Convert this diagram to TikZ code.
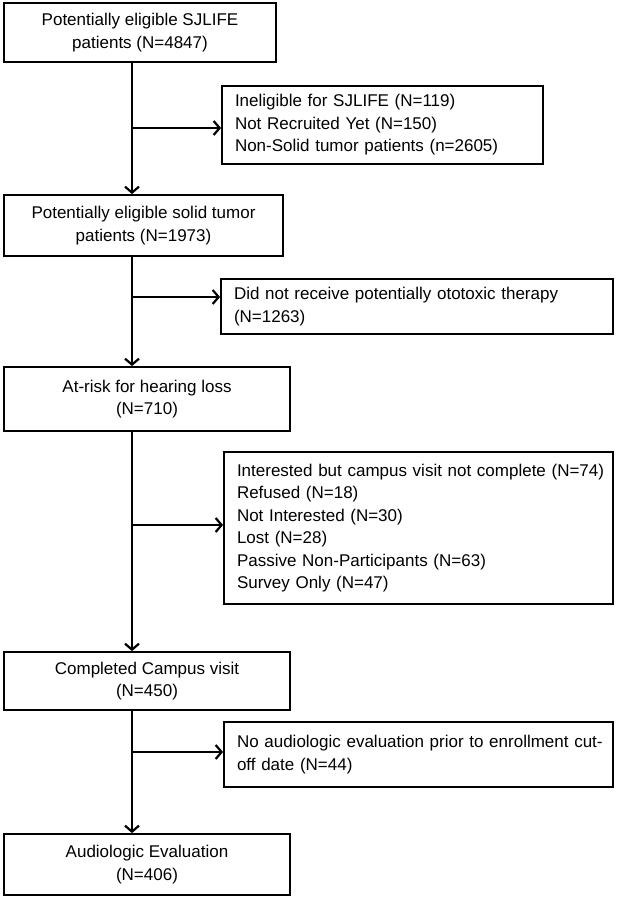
\documentclass[tikz,border=0pt]{standalone}
\usepackage{fontspec}
\setmainfont{Liberation Sans}
\usetikzlibrary{positioning, arrows.meta, calc}

\begin{document}
\begin{tikzpicture}[
    x=1pt, y=-1pt,
    % Styles
    stage/.style={ % Boxes on the main flow
        rectangle,
        draw,
        line width=1.8pt,
        align=center,
        font=\fontsize{17}{22.5}\selectfont
    },
    dropout/.style={ % Exclusion boxes on the right
        stage,
        align=left,
        inner xsep=13pt
    },
    arrow/.style={
        -{Straight Barb[length=6pt, width=14pt]},
        line width=2.2pt
    }
]
    \useasboundingbox (0,0) rectangle (618,900);

    % Main flow
    \node[stage, minimum width=272pt, minimum height=59pt] (eligible) at (140,32.5)
        {Potentially eligible SJLIFE\\patients (N=4847)};
    \node[stage, minimum width=279pt, minimum height=61pt] (solid) at (143.5,225.5)
        {Potentially eligible solid tumor\\patients (N=1973)};
    \node[stage, minimum width=286pt, minimum height=64pt] (atrisk) at (147,399)
        {At-risk for hearing loss\\(N=710)};
    \node[stage, minimum width=286pt, minimum height=58pt] (campus) at (147,681)
        {Completed Campus visit\\(N=450)};
    \node[stage, minimum width=286pt, minimum height=61pt] (audio) at (147,864.5)
        {Audiologic Evaluation\\(N=406)};

    % Exclusions
    \node[dropout, text width=295pt, minimum height=78pt] (ineligible) at (382.5,125)
        {Ineligible for SJLIFE (N=119)\\Not Recruited Yet (N=150)\\Non-Solid tumor patients (n=2605)};
    \node[dropout, text width=366pt, minimum height=55pt] (noototox) at (417,306.5)
        {Did not receive potentially ototoxic therapy\\(N=1263)};
    \node[dropout, text width=363pt, minimum height=152pt] (notseen) at (418.5,528)
        {\mbox{Interested but campus visit not complete (N=74)}\\Refused (N=18)\\Not Interested (N=30)\\Lost (N=28)\\Passive Non-Participants (N=63)\\Survey Only (N=47)};
    \node[dropout, text width=363pt, minimum height=65pt] (noaudio) at (418.5,754.5)
        {\mbox{No audiologic evaluation prior to enrollment cut-}\\off date (N=44)};

    % Spine and split points
    \coordinate (spine) at (132,0);
    \coordinate (split1) at (132,128);
    \coordinate (split2) at (132,297);
    \coordinate (split3) at (132,525);
    \coordinate (split4) at (132,752);

    % Main -> Main
    \draw[arrow] (eligible.south -| spine) -- (solid.north -| spine);
    \draw[arrow] (solid.south -| spine) -- (atrisk.north -| spine);
    \draw[arrow] (atrisk.south -| spine) -- (campus.north -| spine);
    \draw[arrow] (campus.south -| spine) -- (audio.north -| spine);

    % Main -> Exclusions
    \draw[arrow] (split1) -- (split1 -| ineligible.west);
    \draw[arrow] (split2) -- (split2 -| noototox.west);
    \draw[arrow] (split3) -- (split3 -| notseen.west);
    \draw[arrow] (split4) -- (split4 -| noaudio.west);
\end{tikzpicture}
\end{document}
